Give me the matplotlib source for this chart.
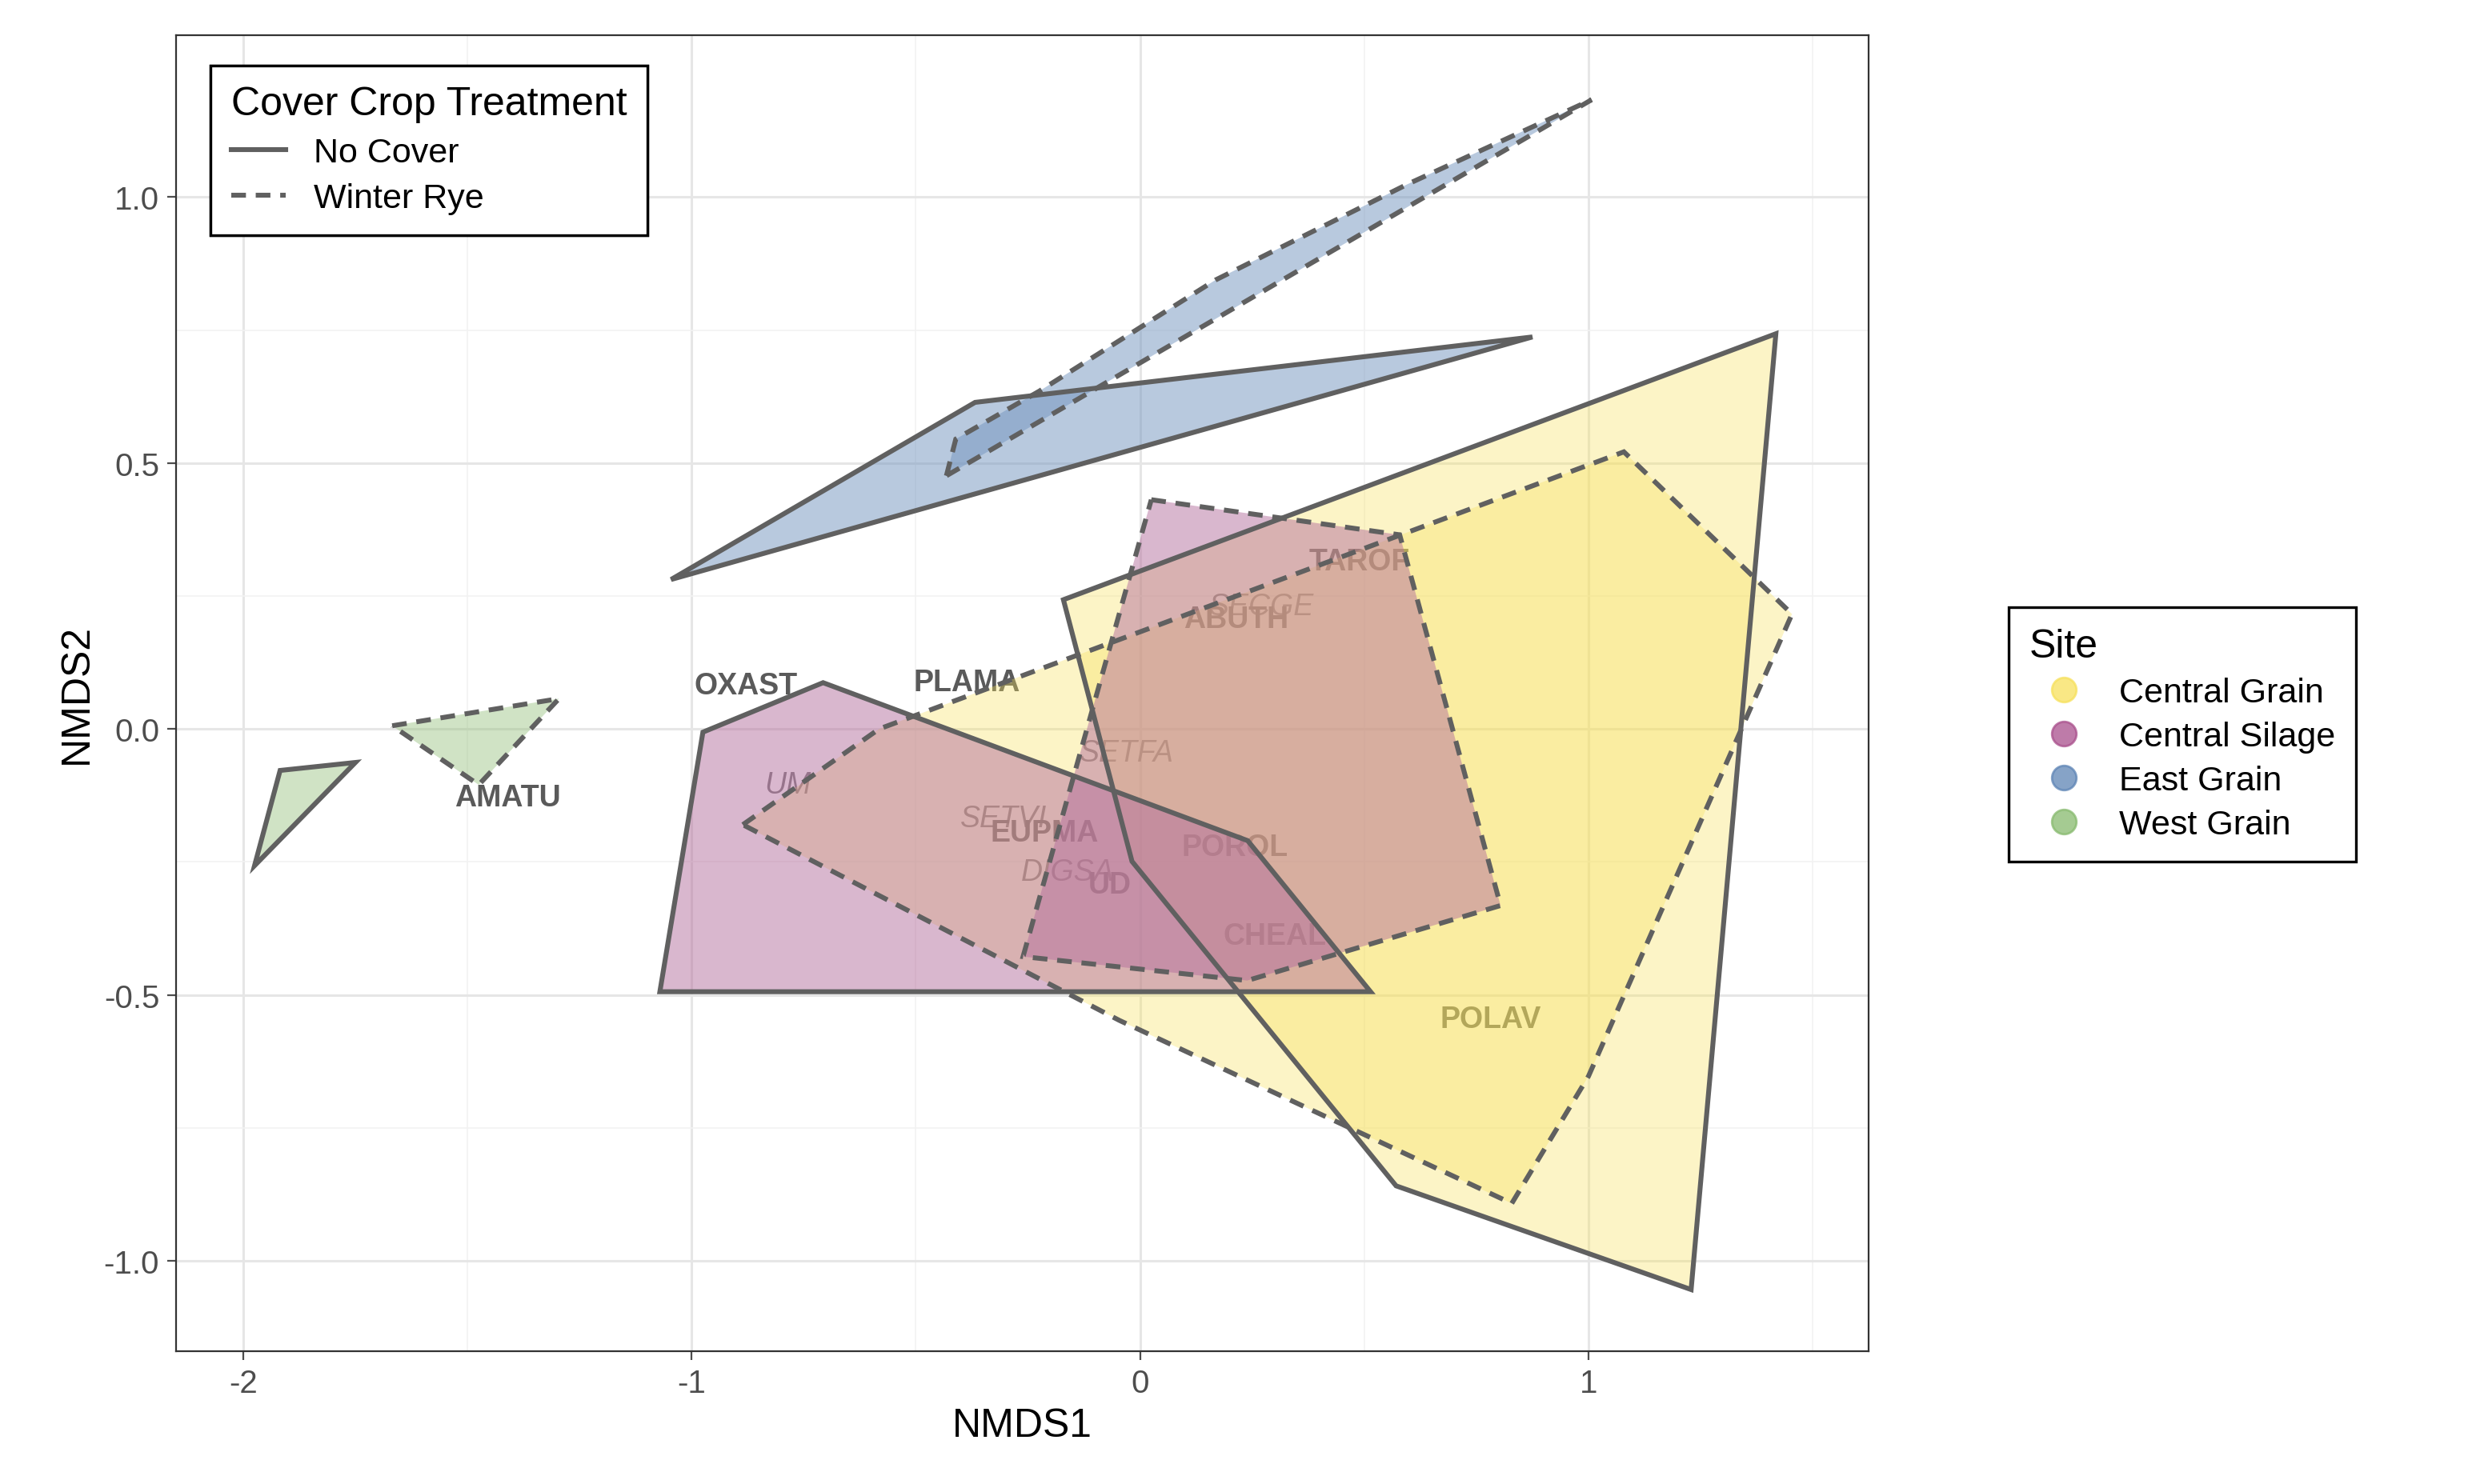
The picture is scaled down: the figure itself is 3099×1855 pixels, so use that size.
import matplotlib
matplotlib.use("Agg")
import matplotlib.pyplot as plt
from matplotlib.patches import Polygon
from matplotlib.lines import Line2D

sites = ["Central Grain", "Central Silage", "East Grain", "West Grain"]
site_colors = ["#F7E15C", "#B5709E", "#7395BF", "#97C17F"]
site_alpha = [0.35, 0.5, 0.5, 0.45]

# hulls: (site, treatment, vertices)
cg_nc = [(-0.171, 0.243), (1.418, 0.743), (1.229, -1.054), (0.571, -0.859), (-0.018, -0.249)]
cg_wr = [(-0.886, -0.18), (-0.582, 0.0), (1.079, 0.521), (1.454, 0.216), (1.0, -0.653), (0.829, -0.892), (-0.046, -0.548)]
cs_nc = [(-1.071, -0.494), (-0.975, -0.006), (-0.707, 0.087), (0.24, -0.21), (0.514, -0.494)]
cs_wr = [(0.025, 0.431), (0.579, 0.365), (0.804, -0.332), (0.239, -0.473), (-0.261, -0.428)]
eg_nc = [(-1.046, 0.281), (-0.368, 0.614), (0.875, 0.737)]
eg_wr = [(-0.432, 0.476), (-0.411, 0.545), (-0.225, 0.635), (0.168, 0.844), (0.596, 1.024), (1.007, 1.183)]
wg_nc = [(-1.975, -0.257), (-1.918, -0.078), (-1.75, -0.063)]
wg_wr = [(-1.668, 0.006), (-1.296, 0.057), (-1.475, -0.105)]
hulls = [(0, "No Cover", cg_nc), (0, "Winter Rye", cg_wr), (1, "No Cover", cs_nc), (1, "Winter Rye", cs_wr),
         (2, "No Cover", eg_nc), (2, "Winter Rye", eg_wr), (3, "No Cover", wg_nc), (3, "Winter Rye", wg_wr)]

species = ["OXAST", "PLAMA", "AMATU", "TAROF", "SECGE", "ABUTH", "SETFA", "UM", "SETVI", "EUPMA", "POROL", "DIGSA", "UD", "CHEAL", "POLAV"]
sp_x = [-0.879, -0.386, -1.411, 0.489, 0.271, 0.214, -0.029, -0.786, -0.304, -0.214, 0.211, -0.161, -0.068, 0.30, 0.782]
sp_y = [0.081, 0.087, -0.129, 0.314, 0.231, 0.207, -0.045, -0.105, -0.168, -0.195, -0.222, -0.269, -0.293, -0.389, -0.545]
sp_italic = [False, False, False, False, True, False, True, True, True, False, False, True, False, False, False]

plt.rcParams['font.family'] = ['Liberation Sans', 'DejaVu Sans']
fig = plt.figure(figsize=(15.495, 9.28), dpi=200)
ax = fig.add_axes([0.071, 0.0894, 0.6825, 0.8866])

for name, x, y, it in zip(species, sp_x, sp_y, sp_italic):
    ax.text(x, y, name, ha='center', va='center', fontsize=13.5,
            fontweight='normal' if it else 'bold', fontstyle='italic' if it else 'normal',
            color='#7a7a7a' if it else '#5a5a5a', zorder=1)

for si, trt, verts in hulls:
    ax.add_patch(Polygon(verts, closed=True, facecolor=site_colors[si], alpha=site_alpha[si],
                         edgecolor='none', zorder=2))
    ax.add_patch(Polygon(verts, closed=True, facecolor='none', edgecolor='#606060', lw=2.2,
                         linestyle='-' if trt == "No Cover" else (0, (3, 2)), zorder=3))

ax.set_xlim(-2.15, 1.625)
ax.set_ylim(-1.17, 1.305)
ax.set_xticks([-2, -1, 0, 1])
ax.set_xticklabels(["-2", "-1", "0", "1"])
ax.set_yticks([-1.0, -0.5, 0.0, 0.5, 1.0])
ax.set_yticklabels(["-1.0", "-0.5", "0.0", "0.5", "1.0"])
ax.set_xticks([-1.5, -0.5, 0.5, 1.5], minor=True)
ax.set_yticks([-0.75, -0.25, 0.25, 0.75], minor=True)
ax.grid(True, which='major', color='#e6e6e6', lw=1.1, zorder=0)
ax.grid(True, which='minor', color='#f2f2f2', lw=0.6, zorder=0)
ax.set_axisbelow(True)
ax.tick_params(which='minor', length=0)
ax.tick_params(which='major', colors='#4d4d4d', labelsize=14.5, length=4)
for s in ax.spines.values():
    s.set_color('#333333')
ax.set_xlabel("NMDS1", fontsize=18)
ax.set_ylabel("NMDS2", fontsize=18)

lh = [Line2D([], [], color='#606060', lw=2.2, ls='-'), Line2D([], [], color='#606060', lw=2.2, ls=(0, (3, 2)))]
leg1 = ax.legend(lh, ["No Cover", "Winter Rye"], title="Cover Crop Treatment", loc='upper left',
                 bbox_to_anchor=(0.01, 0.99), fontsize=15.5, title_fontsize=18, fancybox=False,
                 edgecolor='black', framealpha=1, handlelength=1.6, alignment='left',
                 borderpad=0.6, labelspacing=0.4)
leg1.get_frame().set_linewidth(1.2)
ax.add_artist(leg1)

sh = [Line2D([], [], marker='o', ls='none', markersize=11, markerfacecolor=c, markeredgecolor=c, alpha=0.75)
      for c in ["#F7E15C", "#A94F8C", "#5D84B5", "#87BA6E"]]
leg2 = fig.legend(sh, sites, title="Site", loc='center left', bbox_to_anchor=(0.803, 0.505),
                  fontsize=15.5, title_fontsize=18, fancybox=False, edgecolor='black', framealpha=1,
                  alignment='left', handletextpad=0.6, borderpad=0.6, labelspacing=0.35)
leg2.get_frame().set_linewidth(1.2)

fig.savefig("out.png", dpi=200)
